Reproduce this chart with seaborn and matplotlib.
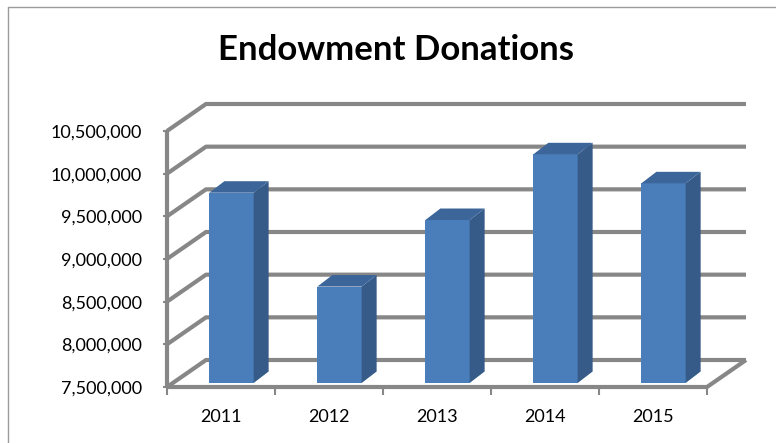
import matplotlib
matplotlib.use("Agg")
import matplotlib.pyplot as plt
import seaborn as sns
import pandas as pd
import numpy as np
from matplotlib.patches import Polygon
from matplotlib.lines import Line2D
from matplotlib.ticker import FuncFormatter

# ---- data ----
years = ["2011", "2012", "2013", "2014", "2015"]
donations = [9_730_000, 8_630_000, 9_410_000, 10_180_000, 9_840_000]
y_ticks = [7_500_000, 8_000_000, 8_500_000, 9_000_000, 9_500_000, 10_000_000, 10_500_000]
title = "Endowment Donations"

BASE = y_ticks[0]
TOP = y_ticks[-1]

# ---- style ----
FRONT = "#4A7EBB"
SIDE = "#365B88"
LID = "#3C659A"
GRID = "#878787"
FRAME = "#9c9c9c"

# pixel offsets used for the pseudo-3D look (display pixels, dpi=100)
WALL = np.array([39.0, 27.0])       # front plane -> back wall
BAR_SHIFT = np.array([10.5, 4.0])   # front plane -> bar front face
BAR_DEPTH = np.array([15.0, 11.5])  # bar front face -> bar back face

sns.set_theme(style="white")
plt.rcParams["font.family"] = ["Lato", "DejaVu Sans"]

fig = plt.figure(figsize=(7.76, 4.43), dpi=100)
fig.patch.set_facecolor("white")
ax = fig.add_axes([167 / 776, (443 - 387) / 443, 540 / 776, 256 / 443])
ax.set_facecolor("none")

df = pd.DataFrame({"year": years, "donations": donations})
sns.barplot(data=df, x="year", y="donations", color=FRONT, saturation=1,
            width=0.41, ax=ax, zorder=3)
ax.set_xlim(-0.5, len(years) - 0.5)
ax.set_ylim(BASE, TOP)

to_px = ax.transData.transform
to_data = ax.transData.inverted().transform


def line_px(points, **kw):
    pts = to_data(np.array(points))
    ax.plot(pts[:, 0], pts[:, 1], clip_on=False, **kw)


line_kw = dict(color=GRID, lw=3.0, solid_capstyle="butt", solid_joinstyle="round")

# back wall gridlines with their side-wall diagonals
x_lo, x_hi = -0.5, len(years) - 0.5
for v in y_ticks:
    front_left = to_px((x_lo, v))
    back_left = front_left + WALL
    back_right = to_px((x_hi, v)) + WALL
    line_px([front_left, back_left, back_right], zorder=1, **line_kw)

# floor front edge and right diagonal, front vertical axis
fl = to_px((x_lo, BASE))
fr = to_px((x_hi, BASE))
line_px([fl, fr, fr + WALL], zorder=2, **line_kw)
line_px([to_px((x_lo, BASE)), to_px((x_lo, TOP))], zorder=2, **line_kw)

# bars: lift to the floor, push into depth, add side and top faces
for patch in list(ax.patches):
    x0 = patch.get_x()
    w = patch.get_width()
    v = patch.get_height()
    bl = to_px((x0, BASE)) + BAR_SHIFT
    tr = to_px((x0 + w, v)) + BAR_SHIFT
    (dx0, dy0), (dx1, dy1) = to_data(np.array([bl, tr]))
    patch.set_x(dx0)
    patch.set_y(dy0)
    patch.set_width(dx1 - dx0)
    patch.set_height(dy1 - dy0)
    patch.set_edgecolor("none")
    patch.set_clip_on(False)

    X0, Yb = bl
    X1, Yt = tr
    side = to_data(np.array([[X1, Yb], [X1, Yt], [X1, Yt] + BAR_DEPTH, [X1, Yb] + BAR_DEPTH]))
    top = to_data(np.array([[X0, Yt], [X1, Yt], [X1, Yt] + BAR_DEPTH, [X0, Yt] + BAR_DEPTH]))
    ax.add_patch(Polygon(side, closed=True, facecolor=SIDE, edgecolor="none",
                         zorder=3, clip_on=False))
    ax.add_patch(Polygon(top, closed=True, facecolor=LID, edgecolor="none",
                         zorder=3, clip_on=False))

# axes ticks and labels
for s in ax.spines.values():
    s.set_visible(False)
ax.set_xlabel("")
ax.set_ylabel("")
ax.set_yticks(y_ticks)
ax.yaxis.set_major_formatter(FuncFormatter(lambda v, _: f"{v:,.0f}"))
ax.tick_params(axis="y", left=True, length=3, width=1.5, color=GRID, pad=15,
               labelsize=13, labelcolor="black")
ax.set_xticks(range(len(years)))
ax.set_xticklabels(years)
ax.set_xticks(np.arange(-0.5, len(years), 1.0), minor=True)
ax.tick_params(axis="x", which="major", bottom=False, length=0, pad=16,
               labelsize=13, labelcolor="black")
ax.tick_params(axis="x", which="minor", bottom=True, length=6, width=1.5,
               color=GRID)
ax.grid(False)

fig.text(396 / 776, 1 - 50 / 443, title, ha="center", va="center",
         fontsize=25, fontweight="bold", color="black")

# chart frame (left and top edges)
fig.add_artist(Line2D([8 / 776, 8 / 776], [0, 1 - 7 / 443], transform=fig.transFigure,
                      color=FRAME, lw=1.0))
fig.add_artist(Line2D([8 / 776, 1], [1 - 7 / 443, 1 - 7 / 443], transform=fig.transFigure,
                      color=FRAME, lw=1.0))

fig.savefig("out.png", dpi=100, facecolor="white")
